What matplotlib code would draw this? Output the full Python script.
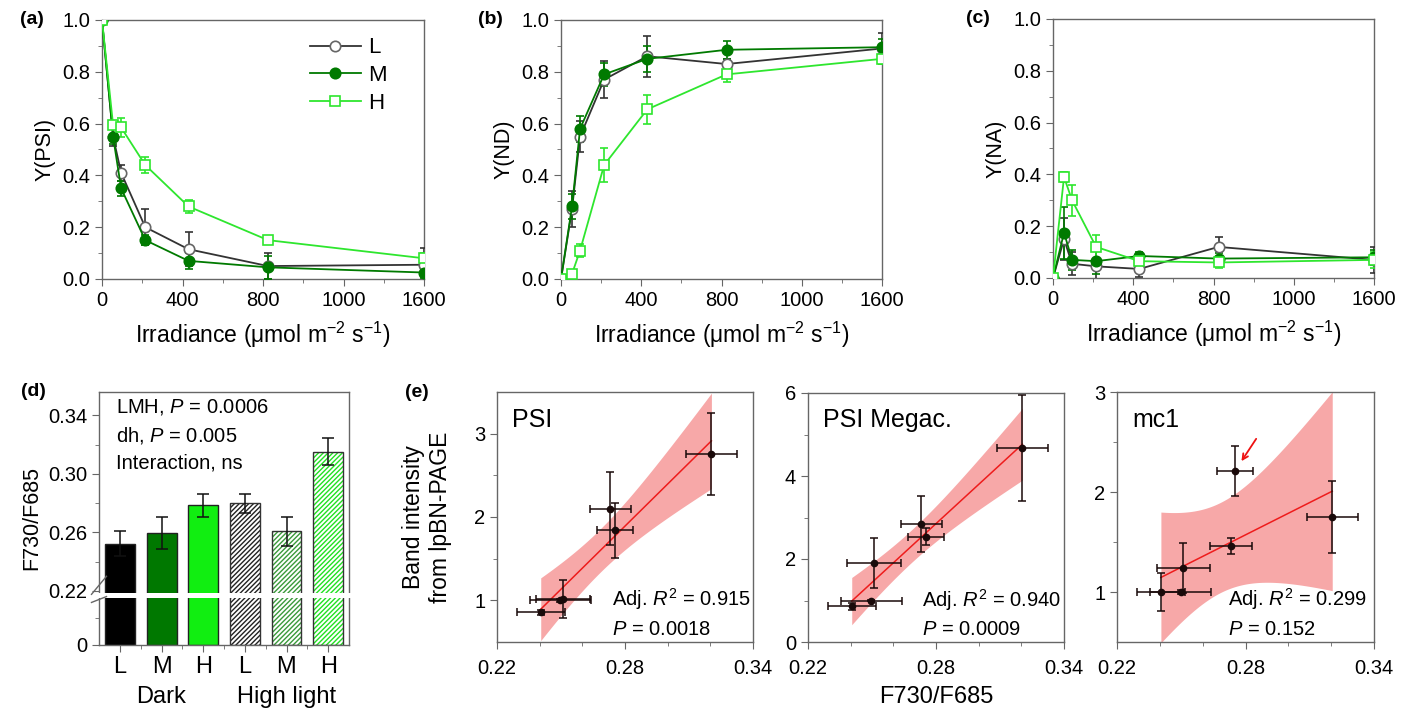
import numpy as np
import matplotlib
matplotlib.use('Agg')
import matplotlib.pyplot as plt
from matplotlib.patches import Rectangle
import matplotlib.transforms as mtransforms

plt.rcParams['font.family'] = ['Liberation Sans', 'DejaVu Sans']
plt.rcParams['mathtext.fontset'] = 'custom'
plt.rcParams['mathtext.rm'] = 'Liberation Sans'
plt.rcParams['mathtext.it'] = 'Liberation Sans:italic'
plt.rcParams['hatch.linewidth'] = 1.0

# ---- data: light response curves (a)-(c) ----
irradiance = [0, 55, 95, 215, 430, 825, 1600]
x_tick_pos = [0, 400, 800, 1200, 1600]
x_tick_lab = ['0', '400', '800', '1000', '1600']

ypsi_L = [1.0, 0.55, 0.41, 0.20, 0.115, 0.05, 0.055]
ypsi_L_err = [0, 0.035, 0.03, 0.07, 0.065, 0.05, 0.065]
ypsi_M = [1.0, 0.55, 0.35, 0.15, 0.07, 0.045, 0.025]
ypsi_M_err = [0, 0.03, 0.03, 0.02, 0.03, 0.045, 0.02]
ypsi_H = [1.0, 0.595, 0.585, 0.44, 0.28, 0.15, 0.08]
ypsi_H_err = [0, 0.015, 0.035, 0.03, 0.025, 0.015, 0.02]

ynd_L = [0, 0.27, 0.55, 0.77, 0.86, 0.83, 0.89]
ynd_L_err = [0, 0.07, 0.06, 0.07, 0.08, 0.02, 0.06]
ynd_M = [0, 0.28, 0.58, 0.79, 0.85, 0.885, 0.895]
ynd_M_err = [0, 0.05, 0.05, 0.045, 0.05, 0.035, 0.03]
ynd_H = [0, 0.02, 0.11, 0.44, 0.655, 0.79, 0.85]
ynd_H_err = [0, 0.01, 0.025, 0.065, 0.055, 0.03, 0.02]

yna_L = [0, 0.15, 0.055, 0.045, 0.035, 0.12, 0.07]
yna_L_err = [0, 0.08, 0.045, 0.07, 0.03, 0.04, 0.05]
yna_M = [0, 0.175, 0.07, 0.065, 0.085, 0.075, 0.08]
yna_M_err = [0, 0.1, 0.04, 0.05, 0.015, 0.02, 0.03]
yna_H = [0, 0.39, 0.30, 0.12, 0.065, 0.06, 0.07]
yna_H_err = [0, 0.02, 0.06, 0.045, 0.03, 0.02, 0.03]

# ---- data: F730/F685 bars (d) ----
bar_labels = ['L', 'M', 'H', 'L', 'M', 'H']
bar_groups = ['Dark', 'High light']
f_ratio = [0.2523, 0.2597, 0.2785, 0.2799, 0.2607, 0.3153]
f_ratio_err = [0.0086, 0.011, 0.0077, 0.0066, 0.0099, 0.0092]

# ---- data: band intensity vs F730/F685 (e) ----
fx = [0.2405, 0.2497, 0.2510, 0.2732, 0.2752, 0.3205]
fx_err = [0.0113, 0.0143, 0.0125, 0.0098, 0.0084, 0.0119]
psi_band = [0.86, 1.00, 1.02, 2.10, 1.84, 2.76]
psi_band_err = [0.03, 0.02, 0.23, 0.44, 0.33, 0.49]
megac_band = [0.86, 1.00, 1.90, 2.84, 2.54, 4.67]
megac_band_err = [0.08, 0.02, 0.61, 0.67, 0.20, 1.28]
mc1_band = [1.00, 1.00, 1.245, 1.465, 2.215, 1.75]
mc1_band_err = [0.19, 0.02, 0.25, 0.08, 0.25, 0.36]

C_L, C_M, C_H = '#333333', '#007a00', '#2ee62e'
SPINE = '#666666'

W, H = 1408, 713
fig = plt.figure(figsize=(W / 100, H / 100), dpi=100)


def px_axes(l, t, r, b):
    return fig.add_axes([l / W, 1 - b / H, (r - l) / W, (b - t) / H])


def style_spines(ax):
    for s in ax.spines.values():
        s.set_color(SPINE)
        s.set_linewidth(1.0)
    ax.tick_params(which='both', direction='out', color=SPINE, top=False, right=False)
    ax.tick_params(which='major', length=5, labelsize=14.5)
    ax.tick_params(which='minor', length=3)


def light_panel(ax, series, ylabel, letter, lx):
    style_spines(ax)
    for y, e, col, mfc, mk in series:
        ax.errorbar(irradiance, y, yerr=e, fmt='none', ecolor=col, elinewidth=1.2,
                    capsize=3, capthick=1.2, zorder=3)
    handles = []
    for (y, e, col, mfc, mk), lab in zip(series, ['L', 'M', 'H']):
        mec = '#666666' if lab == 'L' else col
        h, = ax.plot(irradiance, y, color=col, lw=1.3, marker=mk, ms=7.5,
                     mfc=mfc, mec=mec, mew=1.2, label=lab, zorder=4)
        handles.append(h)
    ax.set_xlim(0, 1600)
    ax.set_ylim(0, 1.0)
    ax.set_xticks(x_tick_pos)
    ax.set_xticklabels(x_tick_lab)
    ax.set_xticks([200, 600, 1000, 1400], minor=True)
    ax.set_yticks(np.arange(0, 1.01, 0.2))
    ax.set_yticklabels(['%.1f' % v for v in np.arange(0, 1.01, 0.2)])
    ax.set_yticks(np.arange(0.1, 1.0, 0.2), minor=True)
    ax.set_ylabel(ylabel, fontsize=15.5, labelpad=5)
    ax.set_xlabel('Irradiance (\u03bcmol m$^{\u22122}$ s$^{\u22121}$)', fontsize=16.5, labelpad=7)
    ax.text(lx, 1.0, letter, transform=ax.transAxes, fontsize=14, fontweight='bold',
            ha='left', va='center')
    return handles


ax_a = px_axes(102, 20, 424, 279)
hs = light_panel(ax_a, [(ypsi_L, ypsi_L_err, C_L, 'white', 'o'),
                        (ypsi_M, ypsi_M_err, C_M, C_M, 'o'),
                        (ypsi_H, ypsi_H_err, C_H, 'white', 's')], 'Y(PSI)', '(a)', -0.255)
ax_a.legend(handles=hs, loc='upper right', bbox_to_anchor=(0.945, 1.01), frameon=False,
            fontsize=16, handlelength=2.3, handletextpad=0.3, labelspacing=0.3)

ax_b = px_axes(561, 20, 882, 279)
light_panel(ax_b, [(ynd_L, ynd_L_err, C_L, 'white', 'o'),
                   (ynd_M, ynd_M_err, C_M, C_M, 'o'),
                   (ynd_H, ynd_H_err, C_H, 'white', 's')], 'Y(ND)', '(b)', -0.26)

ax_c = px_axes(1053, 19, 1374, 278)
light_panel(ax_c, [(yna_L, yna_L_err, C_L, 'white', 'o'),
                   (yna_M, yna_M_err, C_M, C_M, 'o'),
                   (yna_H, yna_H_err, C_H, 'white', 's')], 'Y(NA)', '(c)', -0.27)

# ---- (d) broken-axis bar chart ----
BRK, LOW = 0.22, 0.037


def fwd(y):
    y = np.asarray(y, dtype=float)
    return np.where(y <= BRK, y / BRK * LOW, LOW + (y - BRK))


def inv(t):
    t = np.asarray(t, dtype=float)
    return np.where(t <= LOW, t / LOW * BRK, t - LOW + BRK)


ax_d = px_axes(99, 392, 349, 645)
style_spines(ax_d)
ax_d.set_yscale('function', functions=(fwd, inv))
ax_d.set_ylim(0, 0.356)
ax_d.set_xlim(-0.5, 5.5)
xpos = np.arange(len(f_ratio))
face = ['#000000', '#007800', '#11ee11', 'white', 'white', 'white']
hatch_col = [None, None, None, '#222222', '#3a9a3a', '#22e022']
for i in xpos:
    if hatch_col[i] is None:
        ax_d.bar(i, f_ratio[i], width=0.72, color=face[i], edgecolor='#222222', lw=1, zorder=2)
    else:
        ax_d.bar(i, f_ratio[i], width=0.72, color='white', edgecolor=hatch_col[i],
                 hatch='///////', lw=0, zorder=2)
        ax_d.bar(i, f_ratio[i], width=0.72, fill=False, edgecolor='#333333', lw=1, zorder=2.2)
ax_d.errorbar(xpos, f_ratio, yerr=f_ratio_err, fmt='none', ecolor='#111111',
              elinewidth=1.1, capsize=4, capthick=1.1, zorder=3)
ax_d.set_yticks([0, 0.22, 0.26, 0.30, 0.34])
ax_d.set_yticklabels(['0', '0.22', '0.26', '0.30', '0.34'])
ax_d.set_yticks([0.11, 0.24, 0.28, 0.32], minor=True)
ax_d.set_xticks(xpos)
ax_d.set_xticklabels(bar_labels, fontsize=17)
ax_d.set_xticks(xpos[:-1] + 0.5, minor=True)
ax_d.tick_params(axis='x', which='major', pad=3)
ax_d.set_ylabel('F730/F685', fontsize=15.5, labelpad=4)
# white break band through bars and spines
trans_d = mtransforms.blended_transform_factory(ax_d.transAxes, ax_d.transData)
ax_d.add_patch(Rectangle((-0.02, 0.192), 1.04, 0.019, transform=trans_d, color='white',
                         zorder=5, clip_on=False, lw=0))
for yy in (0.185, 0.218):
    ax_d.plot([-0.03, 0.03], [yy - 0.012, yy + 0.012], transform=trans_d, color=SPINE,
              lw=1, clip_on=False, zorder=6)
trans_dx = mtransforms.blended_transform_factory(ax_d.transData, ax_d.transAxes)
for gx, g in zip([1, 4], bar_groups):
    ax_d.text(gx, -0.205, g, transform=trans_dx, ha='center', va='center', fontsize=17)
ax_d.text(0.068, 0.94, 'LMH, $P$ = 0.0006', transform=ax_d.transAxes, fontsize=14.5, va='center')
ax_d.text(0.068, 0.83, 'dh, $P$ = 0.005', transform=ax_d.transAxes, fontsize=14.5, va='center')
ax_d.text(0.068, 0.72, 'Interaction, ns', transform=ax_d.transAxes, fontsize=14.5, va='center')
ax_d.text(-0.31, 1.0, '(d)', transform=ax_d.transAxes, fontsize=14, fontweight='bold',
          ha='left', va='center')

# ---- (e) regressions with 95% confidence band ----
T_CRIT = 2.776  # t(0.975, df=4)


def reg_panel(ax, y, yerr, title, ylim, yt, ytm, stats):
    style_spines(ax)
    x = np.array(fx)
    yv = np.array(y)
    b, a = np.polyfit(x, yv, 1)
    res = yv - (a + b * x)
    s = np.sqrt(np.sum(res ** 2) / (len(x) - 2))
    xs = np.linspace(x.min(), x.max(), 100)
    sxx = np.sum((x - x.mean()) ** 2)
    half = T_CRIT * s * np.sqrt(1 / len(x) + (xs - x.mean()) ** 2 / sxx)
    ax.fill_between(xs, a + b * xs - half, a + b * xs + half, color='#f7a8a8', lw=0, zorder=1)
    ax.plot(xs, a + b * xs, color='#ee1c1c', lw=1.1, zorder=2)
    ax.errorbar(fx, y, xerr=fx_err, yerr=yerr, fmt='o', color='#1a0a0a', ms=4.5,
                elinewidth=1.1, capsize=3, capthick=1.1, zorder=3)
    ax.set_xlim(0.22, 0.34)
    ax.set_ylim(*ylim)
    ax.set_xticks([0.22, 0.28, 0.34])
    ax.set_xticklabels(['0.22', '0.28', '0.34'])
    ax.set_xticks([0.24, 0.26, 0.30, 0.32], minor=True)
    ax.set_yticks(yt)
    ax.set_yticks(ytm, minor=True)
    ax.tick_params(axis='x', which='major', pad=7)
    ax.text(0.06, 0.89, title, transform=ax.transAxes, fontsize=18, va='center')
    ax.text(stats[0], 0.17, 'Adj. $R^2$ = ' + stats[1], transform=ax.transAxes,
            fontsize=14.5, va='center')
    ax.text(stats[0], 0.05, '$P$ = ' + stats[2], transform=ax.transAxes,
            fontsize=14.5, va='center')


ax_e1 = px_axes(497, 392, 753, 642)
reg_panel(ax_e1, psi_band, psi_band_err, 'PSI', (0.5, 3.5), [1, 2, 3], [1.5, 2.5],
          (0.45, '0.915', '0.0018'))
ax_e1.set_ylabel('Band intensity\nfrom lpBN-PAGE', fontsize=16.5, labelpad=16, linespacing=1.2)
ax_e1.text(-0.36, 1.0, '(e)', transform=ax_e1.transAxes, fontsize=14, fontweight='bold',
           ha='left', va='center')

ax_e2 = px_axes(808, 393, 1064, 642)
reg_panel(ax_e2, megac_band, megac_band_err, 'PSI Megac.', (0, 6), [0, 2, 4, 6], [1, 3, 5],
          (0.445, '0.940', '0.0009'))
ax_e2.set_xlabel('F730/F685', fontsize=17, labelpad=6)

ax_e3 = px_axes(1117, 392, 1374, 642)
reg_panel(ax_e3, mc1_band, mc1_band_err, 'mc1', (0.5, 3.0), [1, 2, 3], [1.5, 2.5],
          (0.43, '0.299', '0.152'))
ax_e3.annotate('', xy=(fx[4] + 0.0022, mc1_band[4] + 0.07),
               xytext=(fx[4] + 0.0105, mc1_band[4] + 0.34),
               arrowprops=dict(arrowstyle='->', color='#ee1111', lw=1.3))

fig.savefig('out.png', dpi=100)
